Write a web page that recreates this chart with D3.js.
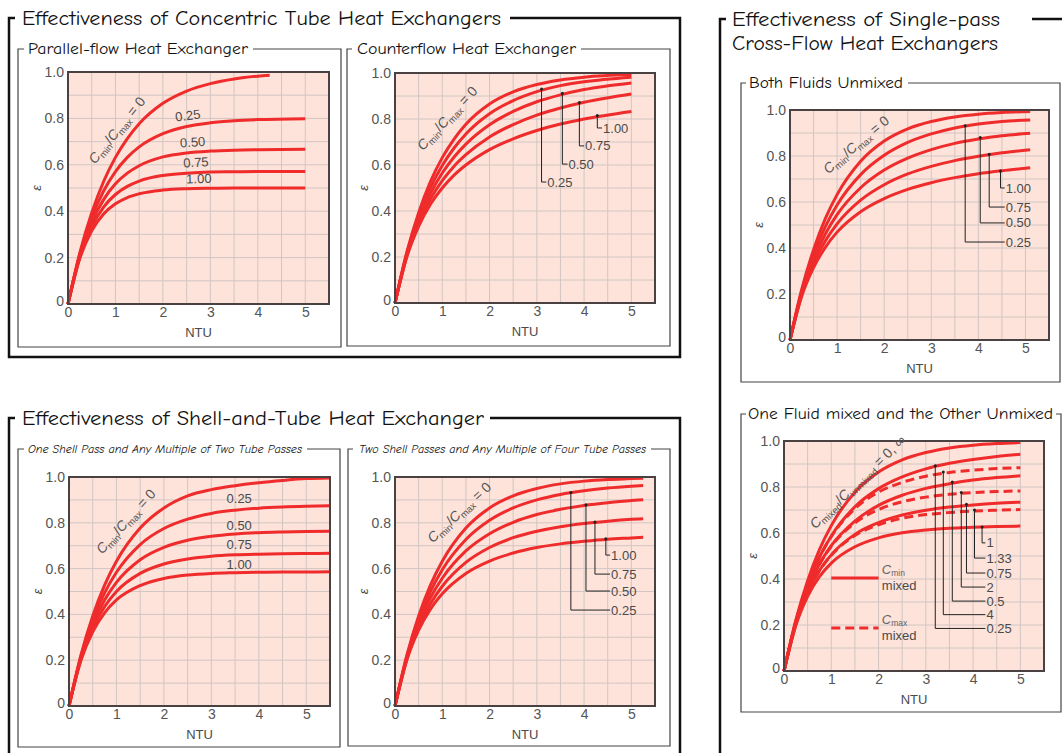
<!DOCTYPE html>
<html>
<head>
<meta charset="utf-8">
<script src="https://cdn.jsdelivr.net/npm/d3@7"></script>
<style>
  body { margin: 0; background: #fff; }
  svg { display: block; }
  .title { font-family: "Comic Sans MS", "Comic Neue", "DejaVu Sans", sans-serif; fill: #111; }
  .num { font-family: "Liberation Sans", Arial, sans-serif; font-size: 13px; fill: #4a4a4a; }
  .tk { font-family: "Liberation Sans", Arial, sans-serif; font-size: 14px; fill: #555; }
  .ratio { font-family: "Liberation Sans", Arial, sans-serif; font-size: 14px; fill: #555; }
</style>
</head>
<body>
<svg id="chart" width="1062" height="753"></svg>
<script>
// ---- data ----
const xTicks = [0, 1, 2, 3, 4, 5];
const yTicks = [0, 0.2, 0.4, 0.6, 0.8, 1.0];
const xGrid = [0.5, 1, 1.5, 2, 2.5, 3, 3.5, 4, 4.5, 5];
const yGrid = [0.1, 0.2, 0.3, 0.4, 0.5, 0.6, 0.7, 0.8, 0.9];

// parallel flow
const parNtu  = [0, 0.25, 0.5, 0.75, 1, 1.25, 1.5, 2, 2.5, 3, 3.5, 4, 5];
const par0Ntu = [0, 0.25, 0.5, 0.75, 1, 1.25, 1.5, 2, 2.5, 3, 3.5, 4, 4.25];
const par0   = [0, 0.221, 0.393, 0.528, 0.632, 0.713, 0.777, 0.865, 0.918, 0.950, 0.970, 0.982, 0.986];
const par25  = [0, 0.215, 0.372, 0.487, 0.571, 0.632, 0.677, 0.734, 0.765, 0.781, 0.790, 0.795, 0.799];
const par50  = [0, 0.209, 0.352, 0.450, 0.518, 0.564, 0.596, 0.634, 0.651, 0.659, 0.663, 0.665, 0.667];
const par75  = [0, 0.203, 0.333, 0.418, 0.472, 0.507, 0.530, 0.554, 0.564, 0.569, 0.570, 0.571, 0.571];
const par100 = [0, 0.197, 0.316, 0.388, 0.432, 0.459, 0.475, 0.491, 0.497, 0.499, 0.500, 0.500, 0.500];
const parLabels = ["0.25", "0.50", "0.75", "1.00"];

// counterflow
const cfNtu  = [0, 0.25, 0.5, 0.75, 1, 1.25, 1.5, 2, 2.5, 3, 3.5, 4, 5];
const cf0    = [0, 0.221, 0.393, 0.528, 0.632, 0.713, 0.777, 0.865, 0.918, 0.950, 0.970, 0.982, 0.993];
const cf25   = [0, 0.216, 0.378, 0.502, 0.598, 0.674, 0.735, 0.823, 0.880, 0.919, 0.945, 0.962, 0.982];
const cf50   = [0, 0.210, 0.362, 0.476, 0.565, 0.635, 0.691, 0.775, 0.833, 0.875, 0.905, 0.928, 0.957];
const cf75   = [0, 0.205, 0.348, 0.452, 0.532, 0.595, 0.645, 0.722, 0.776, 0.817, 0.848, 0.873, 0.909];
const cf100  = [0, 0.200, 0.333, 0.429, 0.500, 0.556, 0.600, 0.667, 0.714, 0.750, 0.778, 0.800, 0.833];
const cfLabels = ["0.25", "0.50", "0.75", "1.00"];

// cross-flow, both fluids unmixed
const xfNtu  = [0, 0.25, 0.5, 0.75, 1, 1.5, 2, 2.5, 3, 3.5, 4, 4.5, 5.1];
const xf0    = [0, 0.221, 0.393, 0.528, 0.632, 0.777, 0.865, 0.918, 0.950, 0.970, 0.982, 0.989, 0.994];
const xf25   = [0, 0.213, 0.372, 0.493, 0.587, 0.719, 0.803, 0.859, 0.896, 0.922, 0.939, 0.950, 0.957];
const xf50   = [0, 0.206, 0.352, 0.461, 0.545, 0.662, 0.739, 0.791, 0.828, 0.855, 0.874, 0.888, 0.899];
const xf75   = [0, 0.198, 0.333, 0.431, 0.505, 0.608, 0.675, 0.722, 0.755, 0.780, 0.799, 0.814, 0.827];
const xf100  = [0, 0.191, 0.315, 0.403, 0.469, 0.558, 0.615, 0.655, 0.684, 0.706, 0.723, 0.736, 0.749];
const xfLabels = ["0.25", "0.50", "0.75", "1.00"];

// cross-flow, one fluid mixed
const ofNtu   = [0, 0.25, 0.5, 0.75, 1, 1.5, 2, 2.5, 3, 3.5, 4, 4.5, 5];
const of0     = [0, 0.221, 0.393, 0.528, 0.632, 0.777, 0.865, 0.918, 0.950, 0.970, 0.982, 0.989, 0.993];
const ofMin25 = [0, 0.215, 0.375, 0.495, 0.587, 0.714, 0.793, 0.844, 0.879, 0.903, 0.920, 0.933, 0.942];
const ofMin50 = [0, 0.209, 0.358, 0.465, 0.545, 0.652, 0.720, 0.764, 0.794, 0.814, 0.830, 0.841, 0.849];
const ofMin75 = [0, 0.204, 0.341, 0.437, 0.505, 0.594, 0.645, 0.678, 0.699, 0.713, 0.722, 0.729, 0.734];
const of100   = [0, 0.198, 0.325, 0.410, 0.469, 0.540, 0.579, 0.601, 0.613, 0.621, 0.625, 0.628, 0.630];
const ofMax25 = [0, 0.215, 0.375, 0.494, 0.584, 0.706, 0.778, 0.820, 0.847, 0.863, 0.873, 0.880, 0.884];
const ofMax50 = [0, 0.209, 0.357, 0.464, 0.542, 0.644, 0.702, 0.736, 0.756, 0.768, 0.776, 0.780, 0.783];
const ofMax75 = [0, 0.204, 0.341, 0.436, 0.503, 0.589, 0.636, 0.664, 0.680, 0.689, 0.695, 0.699, 0.702];
const ofLabels = ["0.25", "4", "0.5", "2", "0.75", "1.33", "1"];

// shell and tube, one shell pass
const s1Ntu  = [0, 0.25, 0.5, 0.75, 1, 1.5, 2, 2.5, 3, 3.5, 4, 4.5, 5, 5.5];
const s1_0   = [0, 0.221, 0.393, 0.528, 0.632, 0.777, 0.865, 0.918, 0.945, 0.962, 0.975, 0.985, 0.993, 0.996];
const s1_25  = [0, 0.215, 0.375, 0.494, 0.584, 0.705, 0.775, 0.816, 0.841, 0.855, 0.864, 0.869, 0.872, 0.874];
const s1_50  = [0, 0.209, 0.357, 0.463, 0.540, 0.639, 0.693, 0.724, 0.741, 0.751, 0.757, 0.760, 0.762, 0.763];
const s1_75  = [0, 0.204, 0.340, 0.434, 0.500, 0.579, 0.620, 0.642, 0.654, 0.660, 0.663, 0.665, 0.666, 0.667];
const s1_100 = [0, 0.198, 0.324, 0.407, 0.463, 0.526, 0.557, 0.572, 0.579, 0.582, 0.584, 0.585, 0.585, 0.586];
const s1Labels = ["0.25", "0.50", "0.75", "1.00"];

// shell and tube, two shell passes
const s2Ntu  = [0, 0.25, 0.5, 0.75, 1, 1.5, 2, 2.5, 3, 3.5, 4, 4.5, 5, 5.25];
const s2_0   = [0, 0.221, 0.393, 0.528, 0.632, 0.777, 0.865, 0.918, 0.950, 0.970, 0.982, 0.989, 0.993, 0.995];
const s2_25  = [0, 0.216, 0.377, 0.500, 0.595, 0.727, 0.811, 0.865, 0.900, 0.924, 0.940, 0.952, 0.960, 0.963];
const s2_50  = [0, 0.210, 0.361, 0.473, 0.558, 0.677, 0.752, 0.802, 0.836, 0.859, 0.876, 0.888, 0.897, 0.901];
const s2_75  = [0, 0.205, 0.346, 0.447, 0.523, 0.627, 0.692, 0.735, 0.763, 0.783, 0.797, 0.807, 0.815, 0.818];
const s2_100 = [0, 0.200, 0.331, 0.423, 0.490, 0.579, 0.633, 0.668, 0.692, 0.708, 0.719, 0.728, 0.734, 0.737];
const s2Labels = ["0.25", "0.50", "0.75", "1.00"];

// ---- drawing ----
const RED = "#ef2b2b";
const BG = "#fde3da";
const GRID = "#d2c6c3";
const svg = d3.select("#chart");

function title(txt, x, y, size, width, italic) {
    svg.append("text").attr("class", "title")
        .attr("x", x).attr("y", y)
        .attr("font-size", size)
        .attr("font-style", italic ? "italic" : null)
        .attr("textLength", width).attr("lengthAdjust", "spacingAndGlyphs")
        .text(txt);
}

// box with a gap in the top edge for its title
function frame(x0, y0, x1, y1, gapA, gapB, w, col) {
    svg.append("path")
        .attr("d", `M${gapA},${y0}H${x0}V${y1}H${x1}V${y0}H${gapB}`)
        .attr("fill", "none").attr("stroke", col).attr("stroke-width", w);
}

function ratioLabel(g, px, py, angle, parts) {
    const t = g.append("text").attr("class", "ratio")
        .attr("transform", `translate(${px},${py}) rotate(${angle})`);
    let low = false;
    parts.forEach(([s, kind]) => {
        const ts = t.append("tspan").text(s);
        if (kind === "sub" && !low) { ts.attr("dy", 3).attr("font-size", 9.5); low = true; }
        else if (kind === "sub") ts.attr("font-size", 9.5);
        else if (low) { ts.attr("dy", -3); low = false; }
        if (kind === "it") ts.attr("font-style", "italic");
    });
}

function drawPanel(p) {
    const x = d3.scaleLinear().domain([0, 5.5]).range([p.left, p.right]);
    const y = d3.scaleLinear().domain([0, 1]).range([p.bottom, p.top]);
    const g = svg.append("g");

    g.append("rect").attr("x", x(0)).attr("y", y(1))
        .attr("width", x(5.5) - x(0)).attr("height", y(0) - y(1)).attr("fill", BG);
    g.selectAll(".gx").data(xGrid).join("line").attr("class", "gx")
        .attr("x1", d => x(d)).attr("x2", d => x(d)).attr("y1", y(0)).attr("y2", y(1))
        .attr("stroke", GRID).attr("stroke-width", 1);
    g.selectAll(".gy").data(yGrid).join("line").attr("class", "gy")
        .attr("y1", d => y(d)).attr("y2", d => y(d)).attr("x1", x(0)).attr("x2", x(5.5))
        .attr("stroke", GRID).attr("stroke-width", 1);

    const ax = g.append("g").attr("transform", `translate(0,${y(0)})`)
        .call(d3.axisBottom(x).tickValues(xTicks).tickSize(0).tickPadding(3).tickFormat(d3.format("d")));
    const ay = g.append("g").attr("transform", `translate(${x(0)},0)`)
        .call(d3.axisLeft(y).tickValues(yTicks).tickSize(0).tickPadding(4)
            .tickFormat(d => d === 0 ? "0" : d.toFixed(1)));
    [ax, ay].forEach(a => {
        a.select(".domain").remove();
        a.attr("font-family", null).attr("font-size", null);
        a.selectAll("text").attr("class", "tk").attr("fill", null);
    });
    ay.selectAll(".tick").filter(d => d === 0).select("text").attr("dy", "0.1em");

    g.append("text").attr("class", "num")
        .attr("x", x(2.75)).attr("y", y(0) + 33).attr("text-anchor", "middle").text("NTU");
    g.append("text").attr("class", "num").attr("font-style", "italic")
        .attr("transform", `translate(${x(0) - 27},${(y(0) + y(1)) / 2}) rotate(-90)`)
        .attr("text-anchor", "middle").text("ε");

    const line = d3.line().x(d => x(d[0])).y(d => y(d[1])).curve(d3.curveMonotoneX);
    p.series.forEach(s => {
        g.append("path").datum(d3.zip(s[0], s[1])).attr("d", line)
            .attr("fill", "none").attr("stroke", RED).attr("stroke-width", 3)
            .attr("stroke-dasharray", s[2] ? "9,5" : null);
    });

    g.append("rect").attr("x", x(0)).attr("y", y(1))
        .attr("width", x(5.5) - x(0)).attr("height", y(0) - y(1))
        .attr("fill", "none").attr("stroke", "#4a4242").attr("stroke-width", 2);

    if (p.leaders) {
        const L = p.leaders;
        L.labels.forEach((lab, i) => {
            g.append("path")
                .attr("d", `M${x(L.at[i])},${y(L.top[i])}V${y(L.low[i])}H${x(L.textAt[i])}`)
                .attr("fill", "none").attr("stroke", "#222").attr("stroke-width", 1);
            g.append("circle").attr("cx", x(L.at[i])).attr("cy", y(L.top[i])).attr("r", 1.5).attr("fill", "#222");
            g.append("text").attr("class", "num").attr("font-size", L.size || null)
                .attr("x", x(L.textAt[i]) + 1).attr("y", y(L.low[i])).attr("dy", "0.35em").text(lab);
        });
    }
    if (p.curveLabels) {
        p.curveLabels.text.forEach((lab, i) => {
            const c = p.curveLabels.pos[i];
            g.append("text").attr("class", "num")
                .attr("transform", `translate(${x(c[0])},${y(c[1])}) rotate(${c[2]})`)
                .attr("dy", "0.35em").text(lab);
        });
    }
    ratioLabel(g, x(p.ratio[0]), y(p.ratio[1]), p.ratio[2], p.ratioParts);
    if (p.legend) p.legend(g, x, y);
}

const minMax = [["C", "it"], ["min", "sub"], ["/", ""], ["C", "it"], ["max", "sub"], [" = 0", ""]];

// group frames and headings
frame(9, 18, 680, 357, 15, 510, 2.5, "#111");
frame(9, 418, 680, 770, 15, 490, 2.5, "#111");
frame(720, 19, 1075, 770, 726, 1032, 2.5, "#111");
title("Effectiveness of Concentric Tube Heat Exchangers", 22, 25, 21, 479);
title("Effectiveness of Single-pass", 732, 26, 21, 268);
title("Cross-Flow Heat Exchangers", 732, 50, 21, 266);
title("Effectiveness of Shell-and-Tube Heat Exchanger", 22, 425, 21, 462);

// panel boxes and titles
frame(18, 49, 341, 347, 24, 253, 1.2, "#444");
frame(347, 49, 670, 346, 352, 581, 1.2, "#444");
frame(741, 83, 1060, 382, 746, 908, 1.2, "#444");
frame(741, 414, 1061, 712, 746, 1056, 1.2, "#444");
frame(18, 449, 340, 747, 24, 307, 1.2, "#444");
frame(348, 449, 670, 746, 353, 651, 1.2, "#444");
title("Parallel-flow Heat Exchanger", 28, 54, 16, 220);
title("Counterflow Heat Exchanger", 357, 54, 16, 219);
title("Both Fluids Unmixed", 749, 88, 16, 154);
title("One Fluid mixed and the Other Unmixed", 748, 419, 16, 305);
title("One Shell Pass and Any Multiple of Two Tube Passes", 28, 453, 12, 274, true);
title("Two Shell Passes and Any Multiple of Four Tube Passes", 359, 453, 12, 287, true);

drawPanel({
    left: 68, right: 329, top: 72, bottom: 304,
    series: [[par0Ntu, par0], [parNtu, par25], [parNtu, par50], [parNtu, par75], [parNtu, par100]],
    curveLabels: { text: parLabels, pos: [[2.26, 0.806, -7], [2.36, 0.694, -4], [2.43, 0.608, -3], [2.49, 0.539, -2]] },
    ratio: [0.57, 0.6, -51], ratioParts: minMax
});

drawPanel({
    left: 395, right: 655, top: 73, bottom: 303,
    series: [[cfNtu, cf0], [cfNtu, cf25], [cfNtu, cf50], [cfNtu, cf75], [cfNtu, cf100]],
    leaders: { labels: cfLabels, at: [3.10, 3.54, 3.90, 4.28], top: [0.93, 0.912, 0.872, 0.815],
               low: [0.526, 0.604, 0.683, 0.761], textAt: [3.2, 3.65, 4.0, 4.38] },
    ratio: [0.59, 0.66, -47], ratioParts: minMax
});

drawPanel({
    left: 790, right: 1049, top: 110, bottom: 340,
    series: [[xfNtu, xf0], [xfNtu, xf25], [xfNtu, xf50], [xfNtu, xf75], [xfNtu, xf100]],
    leaders: { labels: xfLabels, at: [3.72, 4.04, 4.23, 4.47], top: [0.932, 0.88, 0.808, 0.735],
               low: [0.426, 0.509, 0.578, 0.661], textAt: [4.56, 4.56, 4.56, 4.56] },
    ratio: [0.81, 0.72, -40], ratioParts: minMax
});

drawPanel({
    left: 784, right: 1044, top: 441, bottom: 671,
    series: [[ofNtu, of0], [ofNtu, ofMin25], [ofNtu, ofMax25, true], [ofNtu, ofMin50], [ofNtu, ofMax50, true],
             [ofNtu, ofMin75], [ofNtu, ofMax75, true], [ofNtu, of100]],
    leaders: { labels: ofLabels, at: [3.20, 3.37, 3.56, 3.75, 3.86, 4.03, 4.19],
               top: [0.892, 0.865, 0.822, 0.776, 0.725, 0.700, 0.626],
               low: [0.185, 0.245, 0.304, 0.365, 0.426, 0.491, 0.557], textAt: [4.26, 4.26, 4.26, 4.26, 4.26, 4.26, 4.26],
               size: 12 },
    ratio: [0.66, 0.615, -44],
    ratioParts: [["C", "it"], ["mixed", "sub"], ["/", ""], ["C", "it"], ["unmixed", "sub"], [" = 0, ∞", ""]],
    legend: (g, x, y) => {
        [[0.404, false, "min"], [0.187, true, "max"]].forEach(([v, dash, sub]) => {
            g.append("line").attr("x1", x(1.0)).attr("x2", x(2.0)).attr("y1", y(v)).attr("y2", y(v))
                .attr("stroke", RED).attr("stroke-width", 3).attr("stroke-dasharray", dash ? "9,5" : null);
            const t = g.append("text").attr("class", "num").attr("x", x(2.07)).attr("y", y(v) - 4);
            t.append("tspan").attr("font-style", "italic").attr("fill", "#666").text("C");
            t.append("tspan").attr("font-size", 8.5).attr("dy", 2).attr("fill", "#666").text(sub);
            g.append("text").attr("class", "num").attr("x", x(2.07)).attr("y", y(v) + 12).text("mixed");
        });
    }
});

drawPanel({
    left: 69, right: 330, top: 477, bottom: 706,
    series: [[s1Ntu, s1_0], [s1Ntu, s1_25], [s1Ntu, s1_50], [s1Ntu, s1_75], [s1Ntu, s1_100]],
    curveLabels: { text: s1Labels, pos: [[3.32, 0.908, 0], [3.32, 0.79, 0], [3.32, 0.707, 0], [3.32, 0.62, 0]] },
    ratio: [0.7, 0.66, -48], ratioParts: minMax
});

drawPanel({
    left: 395, right: 655, top: 477, bottom: 706,
    series: [[s2Ntu, s2_0], [s2Ntu, s2_25], [s2Ntu, s2_50], [s2Ntu, s2_75], [s2Ntu, s2_100]],
    leaders: { labels: s2Labels, at: [3.72, 4.04, 4.23, 4.46], top: [0.932, 0.879, 0.803, 0.73],
               low: [0.419, 0.502, 0.576, 0.659], textAt: [4.55, 4.55, 4.55, 4.55] },
    ratio: [0.8, 0.71, -43], ratioParts: minMax
});
</script>
</body>
</html>
